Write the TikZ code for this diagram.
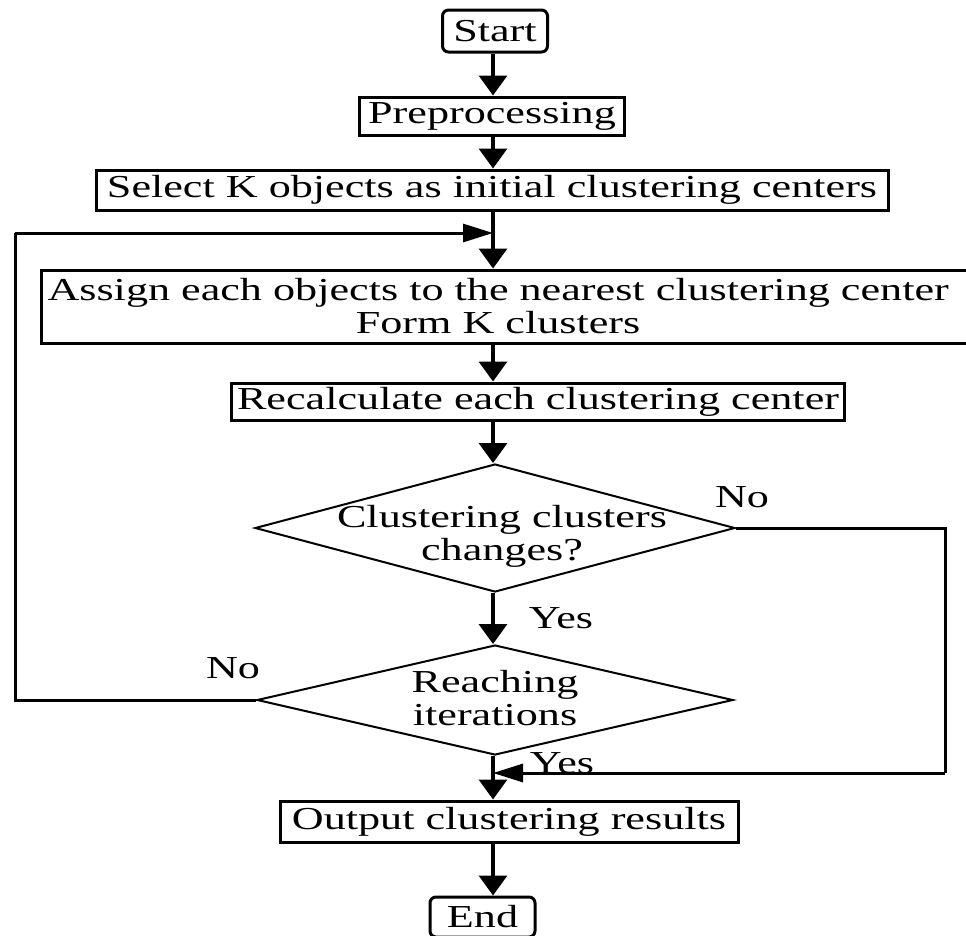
\documentclass[tikz,border=0pt]{standalone}
\usepackage{fontspec}
\setmainfont{Liberation Serif}[FakeStretch=1.38]
\usetikzlibrary{arrows.meta,shapes.geometric}
\begin{document}
\begin{tikzpicture}[x=1pt, y=-1pt, every node/.style={font=\fontsize{32}{33}\selectfont},
    box/.style={draw, line width=3pt, inner sep=2pt},
    term/.style={box, rounded corners=6pt},
    decide/.style={draw, line width=2pt, diamond, inner sep=0pt},
    darr/.style={line width=3.5pt, -{Triangle[width=28pt,length=20pt]}},
    harr/.style={line width=3pt, -{Triangle[width=18pt,length=30pt]}},
    wire/.style={line width=3pt}]
  \useasboundingbox (0,0) rectangle (966,935);
  \clip (0,0) rectangle (966,935);
  \node[term, minimum width=105, minimum height=42] (start) at (495,31) {Start};
  \node[box, minimum width=265, minimum height=38] (pre) at (492,116) {Preprocessing};
  \node[box, minimum width=792, minimum height=40] (sel) at (492,190) {Select K objects as initial clustering centers};
  \node[box, anchor=west, minimum height=73, inner xsep=6pt, inner ysep=0pt, align=center] (asg) at (40,306.5)
    {Assign each objects to the nearest clustering center\hspace*{40pt}\\ Form K clusters\hspace*{40pt}};
  \node[box, minimum width=613, minimum height=37] (rec) at (538,401.5) {Recalculate each clustering center};
  \node[decide, minimum width=480, minimum height=128] (d1) at (495,528) {};
  \node[align=center] (d1t) at (502,536) {Clustering clusters\\changes?};
  \node[decide, minimum width=476, minimum height=110] (d2) at (495,700) {};
  \node[align=center] (d2t) at (495,698) {Reaching\\iterations};
  \node[box, minimum width=458, minimum height=41] (out) at (509,821.5) {Output clustering results};
  \node[term, minimum width=105, minimum height=40] (fin) at (482.5,917) {End};
  % main column
  \coordinate (axis) at (493,0);
  \foreach \a/\b in {start/pre, pre/sel, sel/asg, asg/rec, rec/d1, d1/d2, d2/out, out/fin}
    \draw[darr] (axis |- \a.south) -- (axis |- \b.north);
  % back loops
  \coordinate (jn) at (493,233);
  \coordinate (jo) at (493,773);
  \coordinate (lp) at (15,233);
  \coordinate (rp) at (945,773);
  \draw[wire] (d2.west) -| (lp);
  \draw[harr] (lp) -- (jn);
  \draw[wire] (d1.east) -| (rp);
  \draw[harr] (rp) -- (jo);
  \node (no1) at (742,497) {No};
  \node (yes1) at (561,618) {Yes};
  \node (no2) at (233,668) {No};
  \node (yes2) at (562,763) {Yes};
\end{tikzpicture}
\end{document}
